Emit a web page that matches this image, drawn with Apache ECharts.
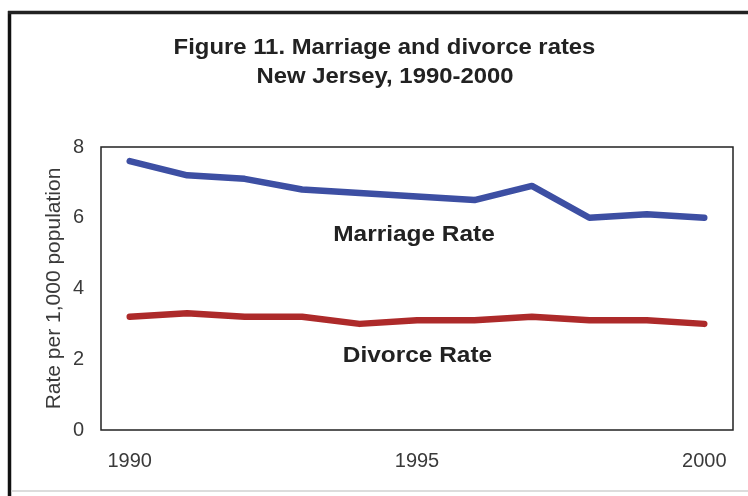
<!DOCTYPE html>
<html>
<head>
<meta charset="utf-8">
<script src="https://cdn.jsdelivr.net/npm/echarts@6/dist/echarts.min.js"></script>
<style>
  html, body { margin: 0; padding: 0; background: #ffffff; }
  #chart { width: 748px; height: 496px; }
</style>
</head>
<body>
<div id="chart"></div>
<script>
const years = ['1990', '1991', '1992', '1993', '1994', '1995', '1996', '1997', '1998', '1999', '2000'];
const marriageRate = [7.6, 7.2, 7.1, 6.8, 6.7, 6.6, 6.5, 6.9, 6.0, 6.1, 6.0];
const divorceRate = [3.2, 3.3, 3.2, 3.2, 3.0, 3.1, 3.1, 3.2, 3.1, 3.1, 3.0];
const titleLines = ['Figure 11. Marriage and divorce rates', 'New Jersey, 1990-2000'];
const seriesNames = ['Marriage Rate', 'Divorce Rate'];
const yAxisName = 'Rate per 1,000 population';

const FONT = '"Liberation Sans", Arial, sans-serif';
const chart = echarts.init(document.getElementById('chart'), null, { renderer: 'canvas' });

const option = {
  backgroundColor: '#ffffff',
  animation: false,
  grid: {
    left: 101, right: 15, top: 147, bottom: 66,
    show: true, borderColor: '#222', borderWidth: 1.5, backgroundColor: 'transparent'
  },
  xAxis: {
    type: 'category',
    data: years,
    boundaryGap: true,
    axisLine: { show: false },
    axisTick: { show: false },
    splitLine: { show: false },
    axisLabel: { interval: 4, fontSize: 20, color: '#3a3a3a', fontFamily: FONT, margin: 21 }
  },
  yAxis: {
    type: 'value',
    min: 0, max: 8, interval: 2,
    axisLine: { show: false },
    axisTick: { show: false },
    splitLine: { show: false },
    axisLabel: { fontSize: 20, color: '#3a3a3a', fontFamily: FONT, margin: 17 },
    name: yAxisName,
    nameLocation: 'middle',
    nameGap: 36,
    nameMoveOverlap: false,
    nameTextStyle: { fontSize: 21, color: '#3a3a3a', fontFamily: FONT }
  },
  series: [
    {
      name: seriesNames[0], type: 'line', data: marriageRate,
      symbol: 'none', smooth: false,
      lineStyle: { color: '#3d4fa3', width: 6.5, join: 'round', cap: 'round' }
    },
    {
      name: seriesNames[1], type: 'line', data: divorceRate,
      symbol: 'none', smooth: false,
      lineStyle: { color: '#ad2a2a', width: 6.5, join: 'round', cap: 'round' }
    }
  ],
  graphic: [
    { type: 'line', shape: { x1: 9.5, y1: 11, x2: 9.5, y2: 496 }, style: { stroke: '#111', lineWidth: 3.5 } },
    { type: 'line', shape: { x1: 8, y1: 12.5, x2: 748, y2: 12.5 }, style: { stroke: '#222', lineWidth: 3.5 } },
    { type: 'line', shape: { x1: 11, y1: 491, x2: 748, y2: 491 }, style: { stroke: '#d0d0d0', lineWidth: 1.5 } },
    { type: 'text', x: 384.5, y: 48, scaleX: 1.11,
      style: { text: titleLines[0], x: 0, y: 0, align: 'center', verticalAlign: 'middle',
               font: 'bold 21.5px ' + FONT, fill: '#222' } },
    { type: 'text', x: 385, y: 77, scaleX: 1.11,
      style: { text: titleLines[1], x: 0, y: 0, align: 'center', verticalAlign: 'middle',
               font: 'bold 21.5px ' + FONT, fill: '#222' } },
    { type: 'text', x: 414, y: 235, scaleX: 1.11,
      style: { text: seriesNames[0], x: 0, y: 0, align: 'center', verticalAlign: 'middle',
               font: 'bold 22px ' + FONT, fill: '#222' } },
    { type: 'text', x: 417.5, y: 356, scaleX: 1.11,
      style: { text: seriesNames[1], x: 0, y: 0, align: 'center', verticalAlign: 'middle',
               font: 'bold 22px ' + FONT, fill: '#222' } }
  ]
};
chart.setOption(option);
</script>
</body>
</html>
